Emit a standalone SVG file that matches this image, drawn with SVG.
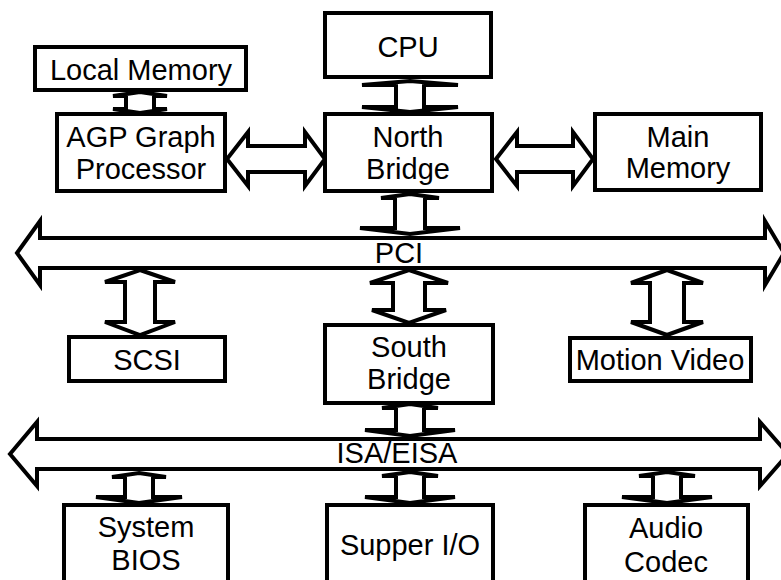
<svg xmlns="http://www.w3.org/2000/svg" width="781" height="580" viewBox="0 0 781 580">
  <style>
    .box { fill: #fff; stroke: #000; stroke-width: 4; }
    .arrow { fill: #fff; stroke: #000; stroke-width: 4; stroke-linejoin: miter; }
    text { font-family: "Liberation Sans", Arial, sans-serif; font-size: 29px; fill: #000; text-anchor: middle; }
  </style>
  <rect width="781" height="580" fill="#fff"/>

  <!-- buses and links -->
  <g id="connectors">
    <!-- PCI bus -->
    <polygon class="arrow" points="17,253 40,221 40,238 765,238 765,221 784,253 765,285 765,268 40,268 40,285"/>
    <!-- ISA/EISA bus -->
    <polygon class="arrow" points="10,454 37,422 37,439 760,439 760,422 788,454 760,486 760,469 37,469 37,486"/>
    <!-- Local Memory <-> AGP -->
    <polygon class="arrow" points="140,92 167,96 154,96 154,109 167,109 140,113 113,109 126,109 126,96 113,96"/>
    <!-- CPU <-> North Bridge -->
    <polygon class="arrow" points="410,81 458,85 424,85 424,107 458,107 410,112 362,107 396,107 396,85 362,85"/>
    <!-- AGP <-> North Bridge -->
    <polygon class="arrow" points="227,159 248,132 248,146 305,146 305,132 325,159 305,186 305,172 248,172 248,186"/>
    <!-- North Bridge <-> Main Memory -->
    <polygon class="arrow" points="496,159 517,132 517,146 573,146 573,132 593,159 573,186 573,172 517,172 517,186"/>
    <!-- North Bridge <-> PCI -->
    <polygon class="arrow" points="410,194 439,198 425,198 425,228 460,228 410,234 360,228 395,228 395,198 381,198"/>
    <!-- PCI <-> SCSI -->
    <polygon class="arrow" points="140,270 175,282 155,282 155,322 175,322 140,335 105,322 125,322 125,282 105,282"/>
    <!-- PCI <-> South Bridge -->
    <polygon class="arrow" points="409,270 448,283 425,283 425,310 446,310 409,323 372,310 393,310 393,283 370,283"/>
    <!-- PCI <-> Motion Video -->
    <polygon class="arrow" points="667,270 703,283 684,283 684,322 703,322 667,335 631,322 650,322 650,283 631,283"/>
    <!-- South Bridge <-> ISA -->
    <polygon class="arrow" points="410,404 438,408 424,408 424,430 455,430 410,436 365,430 396,430 396,408 382,408"/>
    <!-- ISA <-> System BIOS -->
    <polygon class="arrow" points="139,473 166,477 153,477 153,497 182,497 139,503 96,497 125,497 125,477 112,477"/>
    <!-- ISA <-> Supper I/O -->
    <polygon class="arrow" points="410,472 438,476 424,476 424,497 455,497 410,503 365,497 396,497 396,476 382,476"/>
    <!-- ISA <-> Audio Codec -->
    <polygon class="arrow" points="667,472 695,476 681,476 681,497 712,497 667,503 622,497 653,497 653,476 639,476"/>
    <text x="399" y="263">PCI</text>
    <text x="397" y="463">ISA/EISA</text>
  </g>

  <g id="local-memory">
    <rect class="box" x="35" y="47" width="211" height="43"/>
    <text x="141" y="80">Local Memory</text>
  </g>
  <g id="cpu">
    <rect class="box" x="325" y="13" width="166" height="64"/>
    <text x="408" y="57">CPU</text>
  </g>
  <g id="agp">
    <rect class="box" x="57" y="114" width="168" height="77"/>
    <text x="141" y="147">AGP Graph</text>
    <text x="141" y="179">Processor</text>
  </g>
  <g id="north-bridge">
    <rect class="box" x="325" y="114" width="167" height="77"/>
    <text x="408" y="147">North</text>
    <text x="408" y="179">Bridge</text>
  </g>
  <g id="main-memory">
    <rect class="box" x="595" y="114" width="166" height="76"/>
    <text x="678" y="147">Main</text>
    <text x="678" y="178">Memory</text>
  </g>
  <g id="scsi">
    <rect class="box" x="69" y="337" width="156" height="44"/>
    <text x="147" y="370">SCSI</text>
  </g>
  <g id="south-bridge">
    <rect class="box" x="325" y="325" width="168" height="78"/>
    <text x="409" y="357">South</text>
    <text x="409" y="389">Bridge</text>
  </g>
  <g id="motion-video">
    <rect class="box" x="570" y="338" width="181" height="43"/>
    <text x="660" y="370">Motion Video</text>
  </g>
  <g id="system-bios">
    <rect class="box" x="64" y="505" width="164" height="100"/>
    <text x="146" y="537">System</text>
    <text x="146" y="570">BIOS</text>
  </g>
  <g id="supper-io">
    <rect class="box" x="327" y="505" width="166" height="100"/>
    <text x="410" y="555">Supper I/O</text>
  </g>
  <g id="audio-codec">
    <rect class="box" x="585" y="505" width="163" height="100"/>
    <text x="666" y="538">Audio</text>
    <text x="666" y="572">Codec</text>
  </g>
</svg>
